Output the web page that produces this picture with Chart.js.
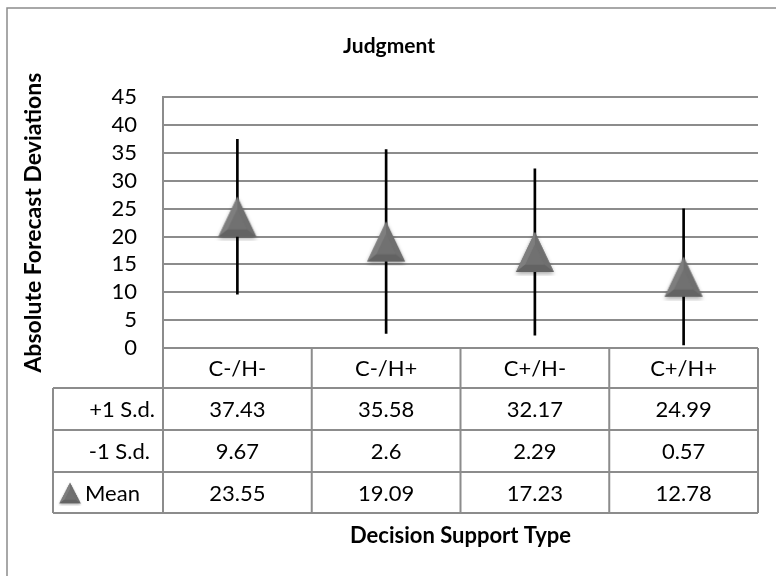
<!DOCTYPE html>
<html>
<head>
<meta charset="utf-8">
<script src="https://cdn.jsdelivr.net/npm/chart.js@4.4.1/dist/chart.umd.min.js"></script>
<style>
  html, body { margin: 0; padding: 0; background: #fff; }
  #wrap { width: 776px; height: 576px; }
</style>
</head>
<body>
<div id="wrap"><canvas id="chart" width="776" height="576"></canvas></div>
<script>
// data
const categories = ['C-/H-', 'C-/H+', 'C+/H-', 'C+/H+'];
const plusSd = [37.43, 35.58, 32.17, 24.99];
const minusSd = [9.67, 2.6, 2.29, 0.57];
const means = [23.55, 19.09, 17.23, 12.78];
const rowLabels = ['+1 S.d.', '-1 S.d.', 'Mean'];
const tableRows = [plusSd, minusSd, means];

const FONT = 'Lato, "Open Sans", sans-serif';
const GRID = '#8c8c8c';

// bevelled grey triangle like the excel marker
function makeTriangle(w, h) {
  const pad = 4;
  const c = document.createElement('canvas');
  c.width = w + pad * 2;
  c.height = h + pad * 2;
  const g = c.getContext('2d');
  const t = [pad + w / 2, pad], bl = [pad, pad + h], br = [pad + w, pad + h];
  const cx = pad + w / 2, cy = pad + h * 0.62;
  const inn = p => [cx + (p[0] - cx) * 0.5, cy + (p[1] - cy) * 0.5];
  const it = inn(t), ibl = inn(bl), ibr = inn(br);
  const poly = (pts, col) => {
    g.beginPath();
    g.moveTo(pts[0][0], pts[0][1]);
    pts.slice(1).forEach(p => g.lineTo(p[0], p[1]));
    g.closePath();
    g.fillStyle = col;
    g.fill();
  };
  g.save();
  g.shadowColor = 'rgba(0,0,0,0.35)';
  g.shadowBlur = 4;
  g.shadowOffsetY = 2;
  poly([t, bl, br], '#747474');
  g.restore();
  poly([t, bl, ibl, it], '#7e7e7e');
  poly([t, br, ibr, it], '#6f6f6f');
  poly([bl, br, ibr, ibl], '#636363');
  poly([it, ibl, ibr], '#717171');
  return c;
}

const marker = makeTriangle(38, 40);

const frame = {
  id: 'frame',
  beforeDraw(chart) {
    const ctx = chart.ctx;
    ctx.save();
    ctx.fillStyle = '#fff';
    ctx.fillRect(0, 0, chart.width, chart.height);
    ctx.strokeStyle = GRID;
    ctx.lineWidth = 1.5;
    ctx.strokeRect(7, 8, 800, 700);
    ctx.restore();
  }
};

// data table under the plot
const dataTable = {
  id: 'dataTable',
  afterDraw(chart) {
    const { ctx, chartArea: a, scales: { x } } = chart;
    const colW = (a.right - a.left) / categories.length;
    const labelLeft = 53;
    const ys = [a.bottom, a.bottom + 40, a.bottom + 82, a.bottom + 124, a.bottom + 165];
    ctx.save();
    ctx.strokeStyle = GRID;
    ctx.lineWidth = 2;
    ctx.beginPath();
    ctx.moveTo(a.left, ys[0]); ctx.lineTo(a.right, ys[0]);
    for (let r = 1; r < ys.length; r++) {
      ctx.moveTo(labelLeft, ys[r]); ctx.lineTo(a.right, ys[r]);
    }
    for (let i = 0; i <= categories.length; i++) {
      const xx = a.left + i * colW;
      ctx.moveTo(xx, ys[0]); ctx.lineTo(xx, ys[4]);
    }
    ctx.moveTo(labelLeft, ys[1]); ctx.lineTo(labelLeft, ys[4]);
    ctx.stroke();

    ctx.fillStyle = '#000';
    ctx.font = '22px ' + FONT;
    ctx.textBaseline = 'middle';
    ctx.textAlign = 'center';
    categories.forEach((c, i) => {
      ctx.fillText(c, x.getPixelForValue(i), (ys[0] + ys[1]) / 2 + 1);
    });
    tableRows.forEach((row, r) => {
      const ym = (ys[r + 1] + ys[r + 2]) / 2 + 1;
      row.forEach((v, i) => ctx.fillText(String(v), x.getPixelForValue(i), ym));
    });
    ctx.textAlign = 'right';
    ctx.fillText(rowLabels[0], 155, (ys[1] + ys[2]) / 2 + 1);
    ctx.fillText(rowLabels[1], 150, (ys[2] + ys[3]) / 2 + 1);
    ctx.textAlign = 'left';
    const ym = (ys[3] + ys[4]) / 2;
    ctx.drawImage(marker, 57, ym - 12, 26, 25);
    ctx.fillText(rowLabels[2], 85, ym + 1);

    ctx.font = 'bold 22px ' + FONT;
    ctx.textAlign = 'center';
    ctx.fillText('Decision Support Type', (a.left + a.right) / 2, 536);
    ctx.restore();
  }
};

new Chart(document.getElementById('chart'), {
  type: 'bar',
  data: {
    labels: categories,
    datasets: [
      {
        type: 'line',
        label: 'Mean',
        data: means,
        showLine: false,
        pointStyle: marker,
        order: 1
      },
      {
        type: 'bar',
        label: 'Range',
        data: categories.map((_, i) => [minusSd[i], plusSd[i]]),
        backgroundColor: '#000',
        barThickness: 2,
        order: 2
      }
    ]
  },
  options: {
    responsive: false,
    animation: false,
    layout: { padding: { left: 20, right: 18, top: 0, bottom: 228 } },
    plugins: {
      legend: { display: false },
      tooltip: { enabled: false },
      title: {
        display: true,
        text: 'Judgment',
        color: '#000',
        font: { family: FONT, size: 21, weight: 'bold' },
        padding: { top: 34, bottom: 38 }
      }
    },
    scales: {
      x: { display: false, offset: true },
      y: {
        min: 0,
        max: 45,
        ticks: { stepSize: 5, autoSkip: false, color: '#000', padding: 26, font: { family: FONT, size: 22 } },
        grid: { color: GRID, lineWidth: 2, drawTicks: false },
        border: { color: GRID, width: 2 },
        title: {
          display: true,
          text: 'Absolute Forecast Deviations',
          color: '#000',
          padding: 0,
          font: { family: FONT, size: 23, weight: 'bold' }
        },
        afterFit: s => { s.width = 143; }
      }
    }
  },
  plugins: [frame, dataTable]
});
</script>
</body>
</html>
